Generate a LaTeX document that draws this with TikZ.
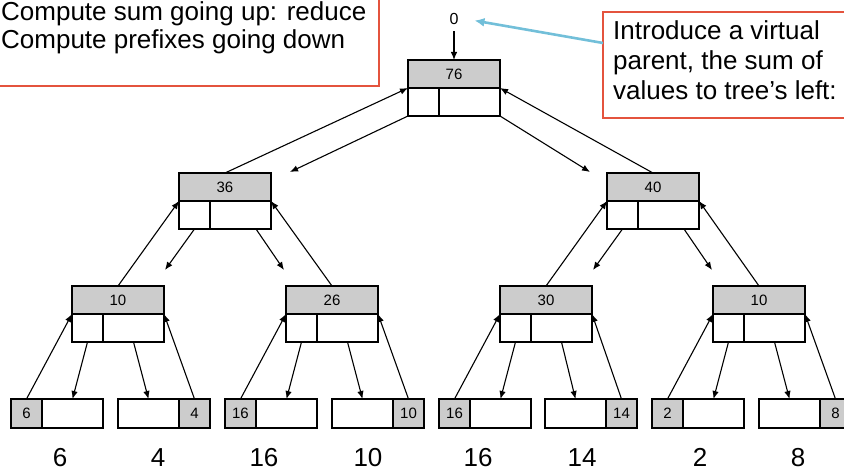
\documentclass[tikz,border=0pt]{standalone}
\usepackage{fontspec}
\setmainfont{Liberation Sans}
\usetikzlibrary{arrows.meta,calc}

\definecolor{cellgray}{HTML}{CCCCCC}
\definecolor{notered}{HTML}{E4533D}
\definecolor{pointerblue}{HTML}{72BFD9}

\tikzset{
  cell/.style={draw, line width=1.2pt, inner sep=0pt, outer sep=0pt,
    minimum height=28pt, anchor=north west, font=\fontsize{15}{15}\selectfont},
  sumcell/.style={cell, fill=cellgray, minimum width=92pt},
  leftcell/.style={cell, fill=white, minimum width=31pt},
  rightcell/.style={cell, fill=white, minimum width=61pt},
  leafval/.style={cell, fill=cellgray, minimum width=31pt, minimum height=29pt},
  leafslot/.style={cell, fill=white, minimum width=61pt, minimum height=29pt},
  flow/.style={line width=1.1pt, -{Latex[length=8pt,width=6.5pt]}},
  pointer/.style={draw=pointerblue, line width=2.6pt,
    -{Latex[length=10pt,width=9pt]}},
  notebox/.style={draw=notered, line width=1.2pt, fill=white, inner sep=0pt,
    outer sep=0pt},
  notetext/.style={anchor=base west, inner sep=0pt,
    font=\fontsize{26}{30}\selectfont},
  inputnum/.style={anchor=base, inner sep=0pt, font=\fontsize{26}{26}\selectfont},
  rootval/.style={inner sep=4pt, font=\fontsize{16}{16}\selectfont}
}

% internal tree node: sum cell on top, two empty cells below
\newcommand\sumnode[4]{%
  \node[sumcell] (#1) at (#2,#3) {#4};
  \node[leftcell] (#1l) at (#1.south west) {};
  \node[rightcell] (#1r) at (#1l.north east) {};
}
% leaf with its value cell on the left
\newcommand\leafvl[4]{%
  \node[leafval] (#1v) at (#2,#3) {#4};
  \node[leafslot] (#1s) at (#1v.north east) {};
}
% leaf with its value cell on the right
\newcommand\leafvr[4]{%
  \node[leafslot] (#1s) at (#2,#3) {};
  \node[leafval] (#1v) at (#1s.north east) {#4};
}

\begin{document}
\begin{tikzpicture}[x=1pt, y=-1pt]
\useasboundingbox (0,0) rectangle (844,470);
\clip (0,0) rectangle (844,470);

% explanatory boxes
\node[notebox, anchor=south east, minimum width=410pt, minimum height=110pt]
  (steps) at (379,86) {};
\node[notetext] (step1) at (1,21) {Compute sum going up: reduce};
\node[notetext] (step2) at (1,49) {Compute prefixes going down};

\node[notebox, anchor=north west, minimum width=280pt, minimum height=106pt]
  (note) at (603,12) {};
\node[notetext] (note1) at (613,40) {Introduce a virtual};
\node[notetext] (note2) at (613,70) {parent, the sum of};
\node[notetext] (note3) at (613,100) {values to tree’s left:};

% tree
\sumnode{r}{408}{60}{76}
\sumnode{a}{179}{173}{36}
\sumnode{b}{607}{173}{40}
\sumnode{c}{72}{286}{10}
\sumnode{d}{286}{286}{26}
\sumnode{e}{500}{286}{30}
\sumnode{f}{713}{286}{10}

\leafvl{p1}{11}{399}{6}
\leafvr{p2}{118}{399}{4}
\leafvl{p3}{225}{399}{16}
\leafvr{p4}{332}{399}{10}
\leafvl{p5}{439}{399}{16}
\leafvr{p6}{545}{399}{14}
\leafvl{p7}{652}{399}{2}
\leafvr{p8}{759}{399}{8}

% input values
\node[inputnum] (n1) at (60,466) {6};
\node[inputnum] (n2) at (158,466) {4};
\node[inputnum] (n3) at (264,466) {16};
\node[inputnum] (n4) at (368,466) {10};
\node[inputnum] (n5) at (478,466) {16};
\node[inputnum] (n6) at (582,466) {14};
\node[inputnum] (n7) at (700,466) {2};
\node[inputnum] (n8) at (798,466) {8};

% virtual parent
\node[rootval] (vp) at (454,18.5) {0};
\draw[flow, shorten <=3pt] (vp.south) -- (r.north);
\draw[pointer, shorten >=12pt] ($(note.north west)+(0,31)$) -- (vp.east);

% sums going up
\draw[flow] (a.north) -- (r.south west);
\draw[flow] (b.north) -- (r.south east);
\draw[flow] (c.north) -- (a.south west);
\draw[flow] (d.north) -- (a.south east);
\draw[flow] (e.north) -- (b.south west);
\draw[flow] (f.north) -- (b.south east);
\draw[flow] (p1v.north) -- (c.south west);
\draw[flow] (p2v.north) -- (c.south east);
\draw[flow] (p3v.north) -- (d.south west);
\draw[flow] (p4v.north) -- (d.south east);
\draw[flow] (p5v.north) -- (e.south west);
\draw[flow] (p6v.north) -- (e.south east);
\draw[flow] (p7v.north) -- (f.south west);
\draw[flow] (p8v.north) -- (f.south east);

% prefixes going down
\coordinate (r-dl) at (290,172);
\coordinate (r-dr) at (590,172);
\draw[flow] (rl.south west) -- (r-dl);
\draw[flow] (rr.south east) -- (r-dr);
\foreach \n in {a,b}{
  \coordinate (\n-dl) at ($(\n l.south west)+(-14,41)$);
  \coordinate (\n-dr) at ($(\n r.south east)+(13,41)$);
  \draw[flow] (\n l.south) -- (\n-dl);
  \draw[flow] ($(\n r.south east)+(-15,0)$) -- (\n-dr);
}
\draw[flow] (cl.south) -- (p1s.north);
\draw[flow] (cr.south) -- (p2s.north);
\draw[flow] (dl.south) -- (p3s.north);
\draw[flow] (dr.south) -- (p4s.north);
\draw[flow] (el.south) -- (p5s.north);
\draw[flow] (er.south) -- (p6s.north);
\draw[flow] (fl.south) -- (p7s.north);
\draw[flow] (fr.south) -- (p8s.north);
\end{tikzpicture}
\end{document}
